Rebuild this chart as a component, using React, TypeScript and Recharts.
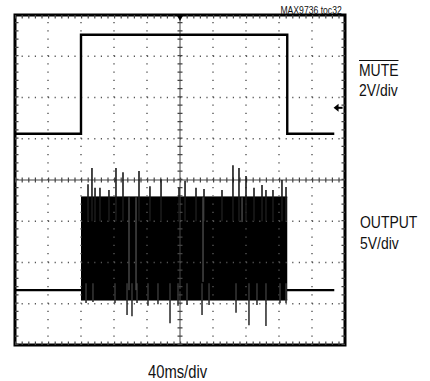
import React from "react";
import {
  ComposedChart,
  XAxis,
  YAxis,
  Line,
  Area,
  ReferenceLine,
  ReferenceArea,
  ReferenceDot,
} from "recharts";

// time axis in ms (40 ms/div, 10 div), vertical axis in divisions (8 div)
const xDomain = [0, 400];
const yDomain = [-4, 4];
const majorX = [40, 80, 120, 160, 240, 280, 320, 360];
const majorY = [-3, -2, -1, 1, 2, 3];

// MUTE channel (divisions)
const muteT = [0, 80, 80, 330, 330, 387];
const muteV = [1.12, 1.12, 3.52, 3.52, 1.12, 1.12];

// OUTPUT channel baseline
const outBaseT = [0, 387];
const outBaseV = [-2.67, -2.67];

// OUTPUT burst envelope
const burstT = [80, 330];
const burstLow = [-2.91, -2.91];
const burstHigh = [-0.41, -0.41];

// spikes above the burst
const upT = [88.5, 93.3, 97, 103, 113.9, 122.4, 130.9, 150.3, 163.6, 177, 198.8, 206.1, 219.4, 229.1, 250.9, 264.2, 271.5, 280, 289.7, 299.4, 304.2, 312.7, 323.6, 328.5];
const upV = [-0.1, 0.29, -0.19, -0.19, -0.24, 0.29, 0.19, 0.22, -0.15, 0.02, -0.19, -0.02, -0.19, -0.22, -0.24, 0.36, 0.29, 0.1, -0.19, -0.12, -0.24, -0.24, 0.0, -0.17];

// spikes below the burst
const downT = [86.1, 94.5, 121.2, 135.8, 141.8, 147.9, 161.2, 173.3, 187.9, 197.6, 208.5, 226.7, 235.2, 267.9, 283.6, 293.3, 304.2, 321.2, 328.5];
const downV = [-2.98, -2.96, -2.98, -3.27, -3.3, -2.98, -3.05, -3.01, -3.47, -3.05, -3.03, -3.27, -3.03, -3.22, -3.52, -3.03, -3.54, -2.98, -2.98];

// lighter streaks inside the burst
const gapT = [138.2, 146.7, 227.9, 275.2];
const gapBottom = [-2.67, -2.67, -2.47, -1.02];

const burstData = burstT.map((t, i) => ({ t, range: [burstLow[i], burstHigh[i]] }));
const muteData = muteT.map((t, i) => ({ t, v: muteV[i] }));
const baseData = outBaseT.map((t, i) => ({ t, v: outBaseV[i] }));
const segs = (ts: number[], from: number[], to: number[]) =>
  ts.flatMap((t, i) => [
    { t, v: from[i] },
    { t, v: to[i] },
    { t, v: null as number | null },
  ]);
const upData = segs(upT, upT.map(() => -1.0), upV);
const downData = segs(downT, downT.map(() => -2.5), downV);
const gapData = segs(gapT, gapT.map(() => -0.42), gapBottom);

const font = "'Liberation Sans', Arial, sans-serif";

const Trigger = (p: any) => (
  <path d={`M${p.cx - 4},${p.cy - 1} L${p.cx + 4},${p.cy - 1} L${p.cx},${p.cy + 6} Z`} fill="#000" />
);
const Arrow = (p: any) => (
  <g>
    <path d={`M${p.cx - 4},${p.cy} L${p.cx + 1},${p.cy - 4} L${p.cx + 1},${p.cy + 4} Z`} fill="#000" />
    <line x1={p.cx} y1={p.cy} x2={p.cx + 5} y2={p.cy} stroke="#000" strokeWidth={2} />
  </g>
);

const txt = (s: React.CSSProperties, origin = "left top"): React.CSSProperties => ({
  position: "absolute",
  fontFamily: font,
  lineHeight: 1,
  color: "#111",
  whiteSpace: "nowrap",
  transform: "scaleX(0.82)",
  transformOrigin: origin,
  ...s,
});

export default function App() {
  return (
    <div style={{ position: "absolute", left: 0, top: 0, width: 430, height: 381, background: "#fff" }}>
      <ComposedChart
        width={430}
        height={381}
        data={burstData}
        margin={{ top: 15, right: 85, bottom: 36, left: 15 }}
      >
        <XAxis type="number" dataKey="t" domain={xDomain} hide allowDataOverflow />
        <YAxis type="number" domain={yDomain} hide allowDataOverflow />
        {majorY.map((y) => (
          <ReferenceLine key={"h" + y} y={y} stroke="#555" strokeWidth={1.4} strokeDasharray="1.2 5.4" ifOverflow="hidden" />
        ))}
        {majorX.map((x) => (
          <ReferenceLine key={"v" + x} x={x} stroke="#555" strokeWidth={1.4} strokeDasharray="1.2 7.05" ifOverflow="hidden" />
        ))}
        <ReferenceLine y={0} stroke="#444" strokeWidth={1} ifOverflow="hidden" />
        <ReferenceLine y={0} stroke="#444" strokeWidth={5} strokeDasharray="1.2 5.4" ifOverflow="hidden" />
        <ReferenceLine x={200} stroke="#444" strokeWidth={1} ifOverflow="hidden" />
        <ReferenceLine x={200} stroke="#444" strokeWidth={5} strokeDasharray="1.2 7.05" ifOverflow="hidden" />
        <ReferenceLine y={4} stroke="#444" strokeWidth={7} strokeDasharray="1.2 5.4" ifOverflow="hidden" />
        <ReferenceLine y={-4} stroke="#444" strokeWidth={7} strokeDasharray="1.2 5.4" ifOverflow="hidden" />
        <ReferenceLine x={0} stroke="#444" strokeWidth={7} strokeDasharray="1.2 7.05" ifOverflow="hidden" />
        <ReferenceLine x={400} stroke="#444" strokeWidth={7} strokeDasharray="1.2 7.05" ifOverflow="hidden" />

        <Line data={baseData} dataKey="v" type="linear" stroke="#000" strokeWidth={2.2} dot={false} isAnimationActive={false} />
        <Area dataKey="range" type="linear" stroke="#000" strokeWidth={1} fill="#000" fillOpacity={1} isAnimationActive={false} />
        <Line data={upData} dataKey="v" type="linear" stroke="#1a1a1a" strokeWidth={1.6} dot={false} isAnimationActive={false} />
        <Line data={downData} dataKey="v" type="linear" stroke="#333" strokeWidth={1.6} dot={false} isAnimationActive={false} />
        <Line data={gapData} dataKey="v" type="linear" stroke="#666" strokeWidth={1} dot={false} isAnimationActive={false} />
        <Line data={muteData} dataKey="v" type="linear" stroke="#000" strokeWidth={2.4} dot={false} isAnimationActive={false} />

        <ReferenceArea x1={0} x2={400} y1={-4} y2={4} fill="none" stroke="#000" strokeWidth={3} ifOverflow="visible" />
        <ReferenceDot x={200} y={4} r={3} shape={Trigger} ifOverflow="visible" />
        <ReferenceDot x={391} y={1.75} r={3} shape={Arrow} ifOverflow="visible" />
      </ComposedChart>

      <div style={txt({ right: 430 - 342, top: 4.5, fontSize: 10.5 }, "right top")}>MAX9736 toc32</div>
      <div style={txt({ left: 359, top: 62, fontSize: 17, textDecoration: "overline" })}>MUTE</div>
      <div style={txt({ left: 359, top: 82, fontSize: 17 })}>2V/div</div>
      <div style={txt({ left: 360, top: 214, fontSize: 17 })}>OUTPUT</div>
      <div style={txt({ left: 360, top: 235, fontSize: 17 })}>5V/div</div>
      <div style={txt({ left: 148, top: 363, fontSize: 18 })}>40ms/div</div>
    </div>
  );
}
